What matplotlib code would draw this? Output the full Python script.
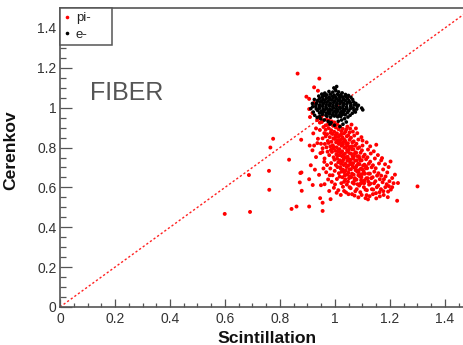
import matplotlib
matplotlib.use("Agg")
import matplotlib.pyplot as plt
from matplotlib.ticker import MultipleLocator, FuncFormatter
from matplotlib.lines import Line2D

plt.rcParams['font.family'] = ['Liberation Sans', 'DejaVu Sans']

# ---------------- data ----------------
pi_points = [
    # main blob
    (0.952,0.928),(0.958,0.903),(0.961,0.872),(0.955,0.846),(0.963,0.818),
    (0.968,0.941),(0.973,0.914),(0.966,0.889),(0.971,0.867),(0.974,0.833),(0.969,0.801),
    (0.978,0.936),(0.983,0.918),(0.977,0.897),(0.984,0.874),(0.981,0.852),(0.976,0.823),(0.985,0.788),(0.979,0.762),
    (0.988,0.931),(0.993,0.909),(0.986,0.887),(0.991,0.868),(0.994,0.846),(0.987,0.829),(0.992,0.811),(0.989,0.778),(0.995,0.751),(0.986,0.722),
    (0.998,0.926),(1.003,0.901),(0.997,0.879),(1.002,0.862),(0.999,0.843),(1.004,0.826),(0.996,0.802),(1.001,0.784),(1.005,0.766),(0.998,0.739),(1.003,0.712),(0.999,0.683),
    (1.008,0.916),(1.013,0.892),(1.007,0.871),(1.012,0.853),(1.009,0.836),(1.014,0.818),(1.006,0.801),(1.011,0.779),(1.015,0.762),(1.008,0.744),(1.012,0.726),(1.009,0.702),(1.014,0.671),(1.007,0.642),
    (1.018,0.906),(1.023,0.882),(1.017,0.861),(1.022,0.841),(1.019,0.826),(1.024,0.809),(1.016,0.792),(1.021,0.774),(1.025,0.757),(1.018,0.736),(1.022,0.718),(1.019,0.701),(1.024,0.679),(1.017,0.654),(1.023,0.621),
    (1.028,0.894),(1.033,0.871),(1.027,0.851),(1.032,0.829),(1.029,0.816),(1.034,0.799),(1.026,0.781),(1.031,0.764),(1.035,0.749),(1.028,0.731),(1.032,0.712),(1.029,0.689),(1.034,0.676),(1.027,0.651),(1.033,0.628),(1.029,0.603),
    (1.038,0.879),(1.043,0.856),(1.037,0.834),(1.042,0.821),(1.039,0.801),(1.044,0.786),(1.036,0.769),(1.041,0.751),(1.045,0.734),(1.038,0.719),(1.042,0.702),(1.039,0.684),(1.044,0.664),(1.037,0.641),(1.043,0.614),
    (1.048,0.861),(1.053,0.839),(1.047,0.821),(1.052,0.802),(1.049,0.788),(1.054,0.771),(1.046,0.754),(1.051,0.741),(1.055,0.724),(1.048,0.709),(1.052,0.691),(1.049,0.674),(1.054,0.656),(1.047,0.629),(1.053,0.601),
    (1.058,0.849),(1.063,0.826),(1.057,0.804),(1.062,0.791),(1.059,0.769),(1.064,0.756),(1.056,0.739),(1.061,0.721),(1.065,0.704),(1.058,0.691),(1.062,0.669),(1.059,0.651),(1.064,0.624),(1.057,0.596),
    (1.068,0.831),(1.073,0.809),(1.067,0.791),(1.072,0.769),(1.069,0.756),(1.074,0.734),(1.066,0.721),(1.071,0.699),(1.075,0.686),(1.068,0.664),(1.072,0.646),(1.069,0.619),(1.074,0.581),
    (1.078,0.819),(1.083,0.796),(1.077,0.774),(1.082,0.756),(1.079,0.736),(1.084,0.719),(1.076,0.701),(1.081,0.679),(1.085,0.661),(1.078,0.639),(1.082,0.616),(1.079,0.591),
    (1.088,0.801),(1.093,0.774),(1.087,0.756),(1.092,0.734),(1.089,0.716),(1.094,0.694),(1.086,0.676),(1.091,0.654),(1.095,0.636),(1.088,0.609),(1.092,0.576),
    (1.098,0.786),(1.103,0.754),(1.097,0.736),(1.102,0.709),(1.099,0.691),(1.104,0.669),(1.096,0.651),(1.101,0.624),(1.105,0.601),
    (1.108,0.764),(1.113,0.741),(1.107,0.714),(1.112,0.696),(1.109,0.669),(1.114,0.646),(1.106,0.621),(1.111,0.589),(1.115,0.561),
    (1.118,0.751),(1.123,0.719),(1.117,0.696),(1.122,0.669),(1.119,0.646),(1.124,0.614),(1.116,0.586),
    (1.128,0.729),(1.133,0.701),(1.127,0.669),(1.132,0.646),(1.129,0.619),(1.134,0.591),(1.126,0.556),
    (1.138,0.711),(1.143,0.679),(1.137,0.651),(1.142,0.621),(1.139,0.589),
    (1.148,0.696),(1.153,0.659),(1.147,0.631),(1.152,0.601),(1.149,0.571),
    (1.158,0.671),(1.163,0.641),(1.157,0.609),(1.162,0.576),
    (1.168,0.659),(1.173,0.626),(1.167,0.591),
    (1.178,0.641),(1.183,0.601),(1.177,0.562),
    (1.188,0.616),(1.193,0.579),
    (1.198,0.631),(1.203,0.589),
    (1.208,0.601),
    # extra core points
    (1.003,0.853),(1.016,0.836),(1.026,0.819),(1.013,0.786),(1.031,0.741),(1.046,0.779),(1.057,0.716),(1.066,0.744),
    (1.079,0.709),(1.086,0.686),(1.097,0.666),(1.021,0.694),(1.036,0.661),(1.051,0.646),(1.071,0.636),(1.093,0.619),
    (1.108,0.636),(1.121,0.629),(1.104,0.681),(1.113,0.706),(1.089,0.746),(1.074,0.776),(1.062,0.806),(1.044,0.811),
    (1.033,0.841),(1.023,0.866),(1.008,0.761),(0.993,0.796),(0.983,0.806),(0.973,0.779),
    # blob periphery
    (0.955,0.796),(0.947,0.772),(0.961,0.728),(0.958,0.695),(0.968,0.676),(0.981,0.661),(0.988,0.628),(0.996,0.598),
    (1.006,0.573),(1.021,0.562),(1.033,0.582),(1.049,0.566),(1.071,0.559),(1.097,0.562),(1.111,0.546),(1.138,0.566),
    (1.163,0.555),(1.176,0.581),(1.196,0.606),(1.213,0.621),(1.218,0.664),(1.195,0.702),(1.182,0.716),(1.168,0.736),
    (1.156,0.762),(1.141,0.781),(1.128,0.806),(1.115,0.826),(1.096,0.852),(1.081,0.872),(1.076,0.896),(1.053,0.876),
    (1.041,0.891),(0.966,0.911),(0.956,0.936),(0.931,0.896),(0.921,0.871),(0.936,0.822),(0.918,0.786),(0.931,0.752),
    (0.912,0.711),(0.927,0.689),(0.906,0.641),(0.962,0.616),(0.979,0.582),
    # around / under the e- cluster
    (0.935,0.938),(0.945,0.925),(0.940,0.950),(1.045,0.905),(1.055,0.895),(1.065,0.880),(1.060,0.915),(0.950,0.955),
    (0.924,1.102),(0.938,1.085),(0.896,1.055),(0.906,1.044),(0.924,1.024),(0.906,0.993),(0.918,0.973),(0.909,0.953),
    # sparse points
    (0.864,1.171),(0.943,1.146),(0.877,0.839),(0.775,0.844),(0.765,0.800),(0.833,0.739),(0.687,0.662),(0.760,0.683),
    (0.761,0.588),(0.599,0.467),(0.691,0.477),(0.842,0.492),(0.860,0.504),(0.906,0.504),(0.955,0.482),(0.955,0.523),
    (0.946,0.546),(0.984,0.541),(0.879,0.583),(0.872,0.625),(0.874,0.672),(0.919,0.612),(0.949,0.611),(0.942,0.663),
    (1.192,0.551),(1.226,0.533),(1.229,0.622),(1.300,0.605),(1.202,0.730),(1.171,0.747),(1.150,0.814),(1.184,0.655),
    (1.208,0.647),(0.908,0.810),(0.924,0.810),(0.938,0.844),(0.949,0.819),(0.954,0.777),(0.945,0.888),(0.966,0.856),
    (0.878,0.675),(0.962,0.745),(0.971,0.712),(0.983,0.695),(0.991,0.661),(0.975,0.640),(1.000,0.615),(1.012,0.586),
    (1.040,0.575),(1.062,0.566),(1.085,0.550),(1.120,0.540),(1.150,0.545),(1.100,0.810),(1.120,0.790),(1.130,0.770),
    (1.145,0.745),(1.160,0.720),(1.175,0.690),(1.190,0.675),(1.085,0.840),(1.100,0.835),(1.070,0.860),
]

e_points = [
    (0.971,0.957),(0.984,0.952),(0.998,0.958),(1.010,0.954),(1.021,0.956),
    (0.954,0.966),(0.967,0.962),(0.980,0.968),(0.991,0.963),(1.004,0.967),(1.016,0.961),(1.027,0.966),(1.037,0.964),
    (0.944,0.973),(0.957,0.977),(0.969,0.972),(0.981,0.976),(0.993,0.974),(1.006,0.978),(1.018,0.973),(1.031,0.977),(1.045,0.975),
    (0.937,0.986),(0.950,0.982),(0.962,0.987),(0.975,0.984),(0.987,0.988),(0.999,0.983),(1.011,0.986),(1.024,0.982),(1.036,0.987),(1.050,0.984),
    (0.932,0.994),(0.944,0.997),(0.957,0.992),(0.969,0.996),(0.981,0.993),(0.994,0.998),(1.006,0.994),(1.019,0.997),(1.031,0.992),(1.043,0.996),(1.056,0.995),
    (0.930,1.006),(0.943,1.002),(0.955,1.007),(0.967,1.003),(0.980,1.008),(0.992,1.004),(1.005,1.007),(1.017,1.002),(1.029,1.006),(1.042,1.003),(1.057,1.008),
    (0.931,1.016),(0.944,1.013),(0.956,1.018),(0.968,1.014),(0.981,1.017),(0.993,1.012),(1.006,1.016),(1.018,1.019),(1.030,1.013),(1.043,1.017),(1.058,1.014),
    (0.933,1.024),(0.946,1.028),(0.958,1.023),(0.970,1.027),(0.983,1.022),(0.995,1.026),(1.007,1.024),(1.020,1.028),(1.032,1.023),(1.045,1.026),(1.056,1.025),
    (0.937,1.036),(0.950,1.032),(0.962,1.037),(0.975,1.033),(0.987,1.038),(0.999,1.034),(1.012,1.036),(1.024,1.032),(1.037,1.037),(1.051,1.035),
    (0.944,1.046),(0.956,1.042),(0.969,1.047),(0.981,1.043),(0.993,1.048),(1.006,1.044),(1.018,1.046),(1.031,1.042),(1.045,1.047),
    (0.954,1.054),(0.966,1.058),(0.979,1.053),(0.991,1.057),(1.003,1.052),(1.016,1.056),(1.028,1.054),(1.038,1.057),
    (0.970,1.064),(0.983,1.068),(0.997,1.063),(1.009,1.067),(1.021,1.065),
    (0.912,0.995),(0.918,1.021),(0.921,0.978),(0.925,1.041),(0.919,1.005),(0.926,0.962),
    (0.935,0.951),(0.941,1.058),(0.948,0.944),(0.952,1.068),(0.961,0.938),(0.963,1.073),
    (0.975,0.931),(0.978,1.081),(0.986,0.925),(0.992,1.078),(1.001,1.092),(1.006,1.106),(1.003,1.085),(0.996,1.099),
    (1.012,0.932),(1.024,0.938),(1.035,0.945),(1.041,0.928),(1.029,0.917),(0.998,0.912),(1.018,0.905),(0.982,0.918),
    (1.026,1.074),(1.038,1.066),(1.049,1.061),(1.058,1.052),(1.064,1.041),(1.068,1.028),(1.071,1.014),(1.066,0.999),
    (1.069,0.987),(1.063,0.972),(1.055,0.962),(1.047,0.953),(1.076,1.021),(1.081,1.006),(1.079,0.993),(1.085,1.012),
    (1.074,0.978),(1.097,0.998),(1.101,0.989),(0.944,0.955),(1.013,1.079),(0.957,1.063),
]

series_labels = ["pi-", "e-"]
series_colors = ["#ff0000", "#000000"]
diag_line = [0.0, 1.5]
x_label = "Scintillation"
y_label = "Cerenkov"
tag_text = "FIBER"

# ---------------- figure ----------------
W, H = 464, 345
fig = plt.figure(figsize=(W / 100, H / 100), dpi=100)
x0, x1 = 60, 472.5
y0, y1 = 307, 8
ax = fig.add_axes([x0 / W, (H - y0) / H, (x1 - x0) / W, (y0 - y1) / H])
ax.set_xlim(0, 1.5)
ax.set_ylim(0, 1.5)

pi_x = [p[0] for p in pi_points]
pi_y = [p[1] for p in pi_points]
e_x = [p[0] for p in e_points]
e_y = [p[1] for p in e_points]

ax.plot(diag_line, diag_line, color="#ff2020", lw=1.0, linestyle=(0, (1.6, 1.6)), zorder=1)
ax.scatter(pi_x, pi_y, s=8, color=series_colors[0], edgecolors="none", zorder=2)
ax.scatter(e_x, e_y, s=7, color=series_colors[1], edgecolors="none", zorder=3)

# spines / ticks in ROOT style
for side in ("left", "bottom", "top"):
    ax.spines[side].set_color("#555555")
    ax.spines[side].set_linewidth(1.2)
ax.spines["right"].set_visible(False)

fmt = FuncFormatter(lambda v, p: "%g" % round(v, 3))
ax.xaxis.set_major_locator(MultipleLocator(0.2))
ax.xaxis.set_minor_locator(MultipleLocator(0.05))
ax.yaxis.set_major_locator(MultipleLocator(0.2))
ax.yaxis.set_minor_locator(MultipleLocator(0.05))
ax.xaxis.set_major_formatter(fmt)
ax.yaxis.set_major_formatter(fmt)
ax.tick_params(axis="x", which="major", direction="in", length=6, width=0.9,
               color="#555555", labelsize=10, labelcolor="#333333", pad=3.5)
ax.tick_params(axis="x", which="minor", direction="in", length=3, width=0.9, color="#555555")
ax.tick_params(axis="y", which="major", direction="in", length=8.5, width=0.9,
               color="#555555", labelsize=10, labelcolor="#333333", pad=2.5)
ax.tick_params(axis="y", which="minor", direction="in", length=4.5, width=0.9, color="#555555")

fig.text(266.5 / W, (H - 343) / H, x_label, fontsize=12.6, fontweight="bold",
         ha="center", va="baseline", color="#111111")
fig.text(10.5 / W, (H - 150) / H, y_label, fontsize=12.6, fontweight="bold",
         ha="center", va="center", rotation=90, color="#111111")

ax.text(0.109, 1.039, tag_text, fontsize=18, color="#555555", ha="left", va="baseline")

handles = [Line2D([], [], marker="o", linestyle="none", markersize=2.6,
                  markerfacecolor=c, markeredgecolor="none") for c in series_colors]
leg_w = 52 / (x1 - x0)
leg_h = 37 / (y0 - y1)
leg = ax.legend(handles, series_labels, loc="upper left",
                bbox_to_anchor=(0, 1 - leg_h, leg_w, leg_h), mode="expand",
                borderaxespad=0, frameon=True, fancybox=False, framealpha=1,
                edgecolor="#555555", fontsize=9.5, handlelength=0.5, handletextpad=0.4,
                borderpad=0.3, labelspacing=0.35)
leg.get_frame().set_linewidth(1.1)
for t in leg.get_texts():
    t.set_color("#222222")

fig.savefig("out.png", dpi=100)
